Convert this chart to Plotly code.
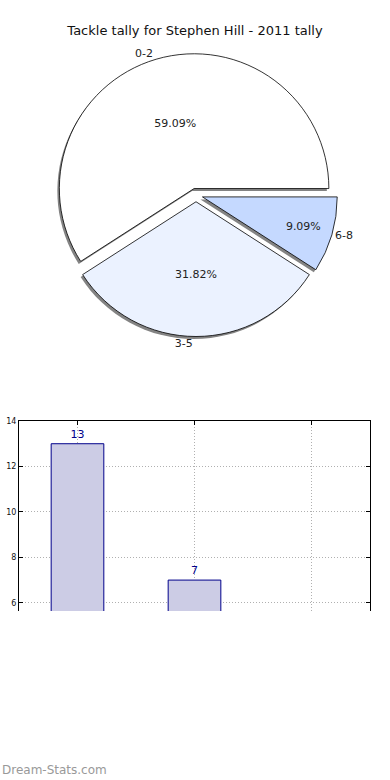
import plotly.graph_objects as go

# Data
categories = ["0-2", "3-5", "6-8"]
counts = [13, 7, 2]
pie_colors = ["#FFFFFF", "#EBF2FF", "#C5D9FF"]
title_text = "Tackle tally for Stephen Hill - 2011 tally"
yticks = [6, 8, 10, 12, 14]
watermark = "Dream-Stats.com"

W, H = 390, 780
FONT = "DejaVu Sans"


def px_x(x):
    return x / W


def px_y(y):
    return 1 - y / H


total = sum(counts)
# first slice begins at 3 o'clock and runs counter-clockwise (matplotlib style)
rot = 90 - 360 * counts[0] / total
pulls = [0.05] * len(categories)

cx, cy, half = 196, 195, 141.5
dom_x = [px_x(cx - half), px_x(cx + half)]
dom_y = [px_y(cy + half), px_y(cy - half)]
sh_dx, sh_dy = -2, 2.5
sdom_x = [px_x(cx - half + sh_dx), px_x(cx + half + sh_dx)]
sdom_y = [px_y(cy + half + sh_dy), px_y(cy - half + sh_dy)]

fig = go.Figure()

# shadow
fig.add_trace(go.Pie(
    labels=categories, values=counts, sort=False, direction="counterclockwise",
    rotation=rot, pull=pulls,
    marker=dict(colors=["rgba(90,90,90,0.75)"] * 3, line=dict(width=0)),
    textinfo="none", domain=dict(x=sdom_x, y=sdom_y), showlegend=False, hoverinfo="skip",
))
# outside category labels
fig.add_trace(go.Pie(
    labels=categories, values=counts, sort=False, direction="counterclockwise",
    rotation=rot, pull=pulls,
    marker=dict(colors=["rgba(0,0,0,0)"] * 3, line=dict(width=0)),
    text=categories, textinfo="text", textposition="outside",
    textfont=dict(family=FONT, size=11, color="#222"),
    domain=dict(x=dom_x, y=dom_y), showlegend=False, hoverinfo="skip",
))
# main pie with percentages inside
fig.add_trace(go.Pie(
    labels=categories, values=counts, sort=False, direction="counterclockwise",
    rotation=rot, pull=pulls,
    marker=dict(colors=pie_colors, line=dict(color="#000000", width=0.8)),
    texttemplate="%{percent:.2%}", textposition="inside", insidetextorientation="horizontal",
    textfont=dict(family=FONT, size=11, color="#222"),
    domain=dict(x=dom_x, y=dom_y), showlegend=False,
))

# bar chart
fig.add_trace(go.Bar(
    x=categories, y=counts, width=0.45,
    marker=dict(color="#CCCCE5", line=dict(color="#00008B", width=1)),
    text=[str(c) for c in counts], textposition="outside",
    textfont=dict(family=FONT, size=11, color="#00008B"),
    cliponaxis=True, showlegend=False, xaxis="x", yaxis="y",
))

grid = dict(showgrid=True, gridcolor="#B0B0B0", griddash="1px,2px", gridwidth=1)

fig.update_layout(
    width=W, height=H, margin=dict(l=0, r=0, t=0, b=0),
    paper_bgcolor="white", plot_bgcolor="white",
    font=dict(family=FONT),
    title=dict(text=title_text, x=0.5, xanchor="center", y=px_y(30), yanchor="middle",
               font=dict(family=FONT, size=13, color="#111")),
    xaxis=dict(domain=[px_x(19), px_x(370)], range=[-0.5, 2.5], side="top",
               showline=True, linecolor="black", linewidth=1, mirror=False,
               showticklabels=False, ticks="inside", ticklen=4, tickcolor="black",
               zeroline=False, automargin=False, **grid),
    yaxis=dict(domain=[px_y(611), px_y(421)], range=[5.64, 14],
               tickvals=yticks, ticks="inside", ticklen=4, tickcolor="black",
               tickfont=dict(family=FONT, size=8, color="#111"),
               showline=True, linecolor="black", linewidth=1, mirror="ticks",
               zeroline=False, automargin=False, **grid),
)

fig.add_annotation(text=watermark, xref="paper", yref="paper",
                   x=0, y=px_y(770), xanchor="left", yanchor="middle", showarrow=False,
                   font=dict(family=FONT, size=12, color="#999999"))

fig.write_html("out.html", config={"displayModeBar": False},
               post_script="document.body.style.margin='0';document.body.style.overflow='hidden';")
